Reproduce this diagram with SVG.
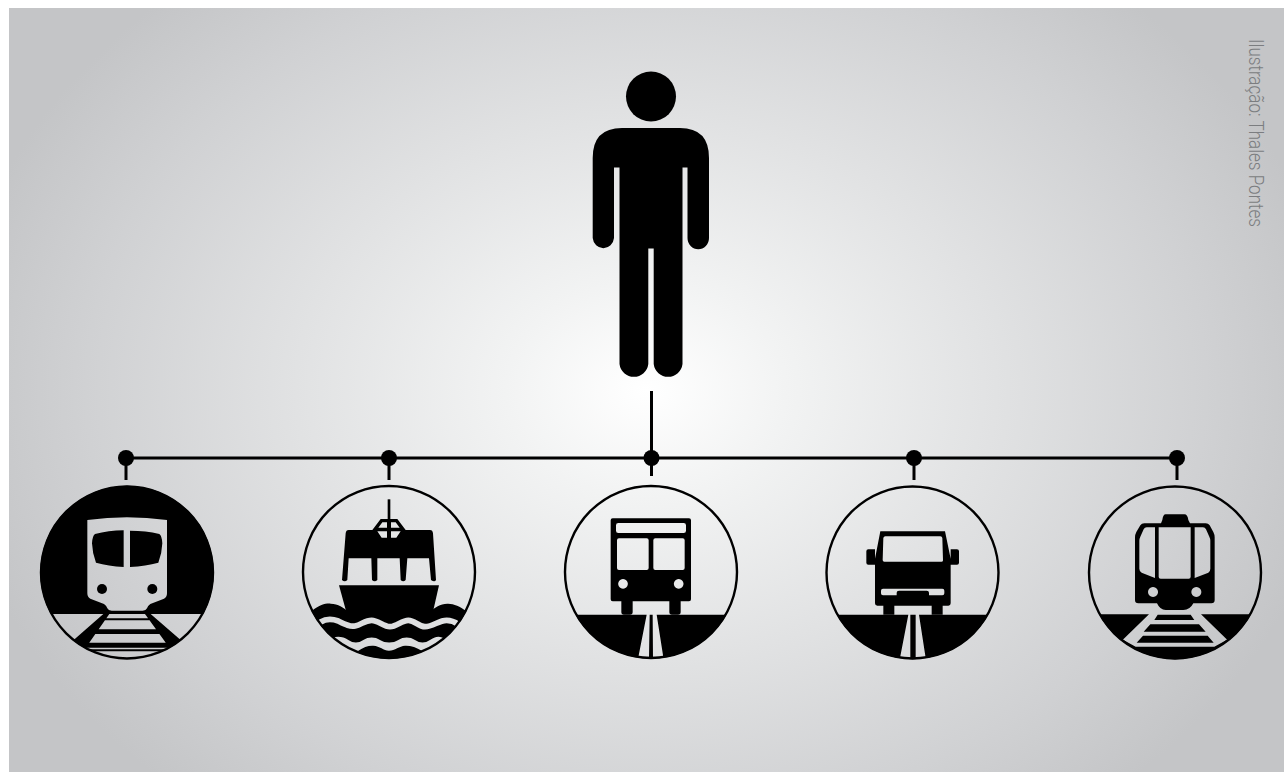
<svg xmlns="http://www.w3.org/2000/svg" width="1284" height="772" viewBox="0 0 1284 772">
<defs>
<radialGradient id="bg" gradientUnits="userSpaceOnUse" cx="0" cy="0" r="1" gradientTransform="translate(646 390) scale(700 540)">
<stop offset="0" stop-color="#ffffff"/>
<stop offset="0.2" stop-color="#f2f3f3"/>
<stop offset="0.5" stop-color="#e1e2e3"/>
<stop offset="0.8" stop-color="#d0d1d3"/>
<stop offset="1" stop-color="#c4c5c7"/>
</radialGradient>
<clipPath id="c1"><circle cx="291" cy="397.5" r="260"/></clipPath>
<clipPath id="c2"><circle cx="297" cy="396" r="260"/></clipPath>
<clipPath id="c3"><circle cx="303" cy="396" r="260"/></clipPath>
<clipPath id="c4"><circle cx="292.5" cy="397.5" r="260"/></clipPath>
<clipPath id="c5"><circle cx="300" cy="397.5" r="260"/></clipPath>
<mask id="waves" maskUnits="userSpaceOnUse" x="0" y="0" width="600" height="690">
<rect width="600" height="690" fill="#fff"/>
<path fill="none" stroke="#000" stroke-width="17" stroke-linecap="round" d="M92 546C105 538 125 536 145 543C165 553 180 561 195 558C215 553 225 541 245 541C265 541 280 560 300 560C320 560 335 541 355 541C375 541 385 560 405 560C430 560 445 541 470 541C485 541 495 546 505 553"/>
</mask>
</defs>
<style>
.k{fill:#000}
.ev{fill:#000;fill-rule:evenodd}
.ring{fill:none;stroke:#000;stroke-width:2.4}
.ln{fill:none;stroke:#000;stroke-width:3}
.dot{fill:#000}
.t{font-family:Roboto,"Liberation Sans",sans-serif;font-size:19.5px;font-weight:300;fill:#7b7d80}
</style>
<rect width="1284" height="772" fill="#fff"/>
<rect id="background" x="9" y="8" width="1275" height="764" fill="url(#bg)"/>
<g id="person">
<circle class="k" cx="651" cy="96.5" r="25"/>
<path class="k" d="M622 128H680Q709 128 709 158V238A10.7 11.3 0 0 1 687.5 238V167.5H682.5V364A14.5 14.5 0 0 1 653.7 364V248.5H648.3V364A14.5 14.5 0 0 1 619.5 364V167.5H614V238A10.7 11.3 0 0 1 592.7 238V158Q592.7 128 622 128Z"/>
</g>
<g id="connectors">
<path class="ln" d="M126 458H1177M651.5 391V476M126 458V480M389 458V480M914 458V480M1177 458V480"/>
<circle class="dot" cx="126" cy="458" r="8"/>
<circle class="dot" cx="389" cy="458" r="8"/>
<circle class="dot" cx="651.5" cy="458" r="8"/>
<circle class="dot" cx="914" cy="458" r="8"/>
<circle class="dot" cx="1177" cy="458" r="8"/>
</g>
<g id="metro">
<circle class="ring" cx="127" cy="572.5" r="86"/>
<g transform="translate(30 440) scale(.33333)" clip-path="url(#c1)">
<path class="ev" d="M0 100H600V522H0ZM172 240V460Q172 471 181 476L222 492Q230 497 232 505Q235 512 245 512H338Q348 512 351 505Q353 497 361 492L402 476Q411 471 411 460V240Q350 232 291 232Q232 232 172 240Z"/>
<path class="k" d="M195 282Q235 272 281 271V381Q235 378 198 368Q187 340 186 310Q187 288 195 282ZM388 282Q348 272 300 272V381Q348 378 385 368Q396 340 397 310Q396 288 388 282Z"/>
<circle class="k" cx="216" cy="447" r="15"/>
<circle class="k" cx="367" cy="447" r="15"/>
<path class="k" d="M220 522H238L175 612L160 640L125 605ZM345 522H362L458 605L425 640L410 612ZM229 535H355L360 541H224ZM205 568H380L391 582H194ZM176 608H410L420 623H166ZM150 628H430V634H150Z"/>
</g>
</g>
<g id="ferry">
<circle class="ring" cx="389" cy="572" r="86"/>
<g transform="translate(290 440) scale(.33333)" clip-path="url(#c2)">
<rect class="k" x="293" y="178" width="8" height="62"/>
<path class="ev" d="M272 237H322L347 270H420Q428 270 429 280L438 420Q434 428 423 420L417 355H352L347 420Q340 428 332 420L329 355H262L262 420Q254 428 246 420L244 355H176L172 420Q164 428 156 420L167 280Q168 270 176 270H247ZM277 247H291V263H265ZM303 247H317L329 263H303ZM262 274H291V293H275ZM303 274H332L319 293H303Z"/>
<path class="k" d="M147 436H447L428 520H170Z"/>
<path class="k" mask="url(#waves)" d="M66 512C90 495 105 490 122 491C145 492 160 503 175 515H420C435 503 450 492 472 491C490 490 510 500 528 512L560 520V600H468C450 585 435 590 420 600C405 610 390 610 375 600C360 590 340 590 325 600C310 610 285 610 270 600C255 590 235 590 220 600C205 610 190 610 175 600C160 590 145 588 126 593H30V512Z"/>
<path class="k" d="M205 632C220 622 235 616 250 617C270 618 280 632 297 632C315 632 328 618 345 617C360 616 380 622 395 632V680H205Z"/>
</g>
</g>
<g id="bus">
<circle class="ring" cx="651" cy="572" r="86"/>
<g transform="translate(550 440) scale(.33333)">
<path class="ev" d="M188 235H417Q423 235 423 241V478Q423 484 417 484H392V516Q392 524 384 524H366Q358 524 358 516V484H248V516Q248 524 240 524H222Q214 524 214 516V484H188Q182 484 182 478V241Q182 235 188 235ZM205 249Q198 249 198 256V272Q198 279 205 279H401Q408 279 408 272V256Q408 249 401 249ZM207 295Q201 295 201 301V384Q201 390 207 390H290Q296 390 296 384V301Q296 295 290 295ZM316 295Q310 295 310 301V384Q310 390 316 390H398Q404 390 404 384V301Q404 295 398 295ZM219 417A14.5 14.5 0 1 0 219.1 417ZM386 417A14.5 14.5 0 1 0 386.1 417Z"/>
<path class="ev" clip-path="url(#c3)" d="M0 524H600V690H0ZM290 524L265 652Q280 656 297 656L299 524ZM308 524L309 656Q325 656 340 652L320 524Z"/>
</g>
</g>
<g id="van">
<circle class="ring" cx="912.5" cy="572.5" r="86"/>
<g transform="translate(815 440) scale(.33333)">
<path class="ev" d="M196 274H390L407 356V328H426Q432 328 432 334V368Q432 374 426 374H407V490Q407 497 400 497H383V524H350V497H238V524H205V497H187Q180 497 180 490V374H160Q154 374 154 368V334Q154 328 160 328H180V356ZM211 289Q206 289 205 294L203 360Q203 365 208 365H380Q385 365 384 360L382 294Q381 289 376 289ZM204 446Q198 446 198 452V460Q198 466 204 466H245V458Q245 452 252 452H335Q342 452 342 458V466H382Q388 466 388 460V452Q388 446 382 446Z"/>
<path class="ev" clip-path="url(#c4)" d="M0 524H600V690H0ZM280 524L255 654Q270 658 286 658V524ZM302 524V658Q318 658 332 654L312 524Z"/>
</g>
</g>
<g id="tram">
<circle class="ring" cx="1175" cy="572.5" r="86"/>
<g transform="translate(1075 440) scale(.33333)">
<path class="ev" d="M272 223H328Q338 223 340 240L345 250H392Q400 250 404 256L415 276Q419 284 419 292V480Q419 490 409 490H355Q345 510 325 510H272Q255 510 246 490H190Q180 490 180 480V292Q180 284 184 276L196 256Q200 250 208 250H258L262 240Q264 223 272 223ZM215 262Q209 262 206 268L196 290Q193 296 193 302V386Q193 394 200 398L240 414V262ZM251 262V410Q251 416 257 416H341Q347 416 347 410V262ZM359 262V414L400 398Q406 394 406 386V302Q406 296 403 290L393 268Q390 262 384 262ZM234 441A15 15 0 1 0 234.1 441ZM364 441A15 15 0 1 0 364.1 441Z"/>
<path class="k" clip-path="url(#c5)" d="M20 523H222L145 598L60 680ZM378 523H580L540 680L455 598ZM248 524H347L358 540H238ZM226 553H372L392 575H206ZM204 587H398L416 608H185ZM100 575L182 620H418L500 575V690H100Z"/>
</g>
</g>
<text class="t" transform="translate(1249 39) rotate(90)" textLength="188" lengthAdjust="spacingAndGlyphs">Ilustração: Thales Pontes</text>
</svg>
